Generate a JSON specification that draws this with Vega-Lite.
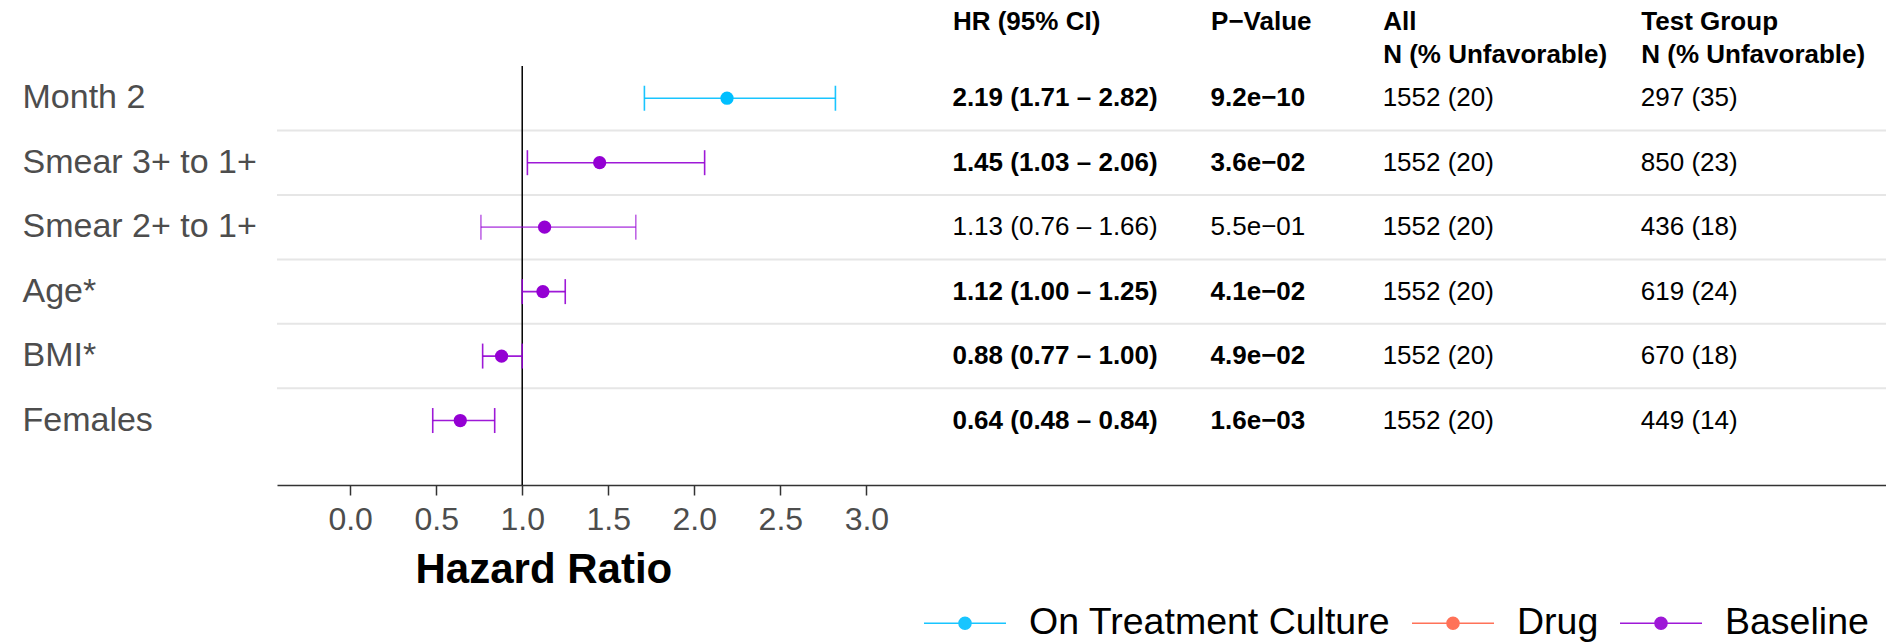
{
  "$schema": "https://vega.github.io/schema/vega-lite/v6.json",
  "width": 1609,
  "height": 419,
  "autosize": {"type": "none"},
  "padding": {"left": 277, "top": 66, "right": 0, "bottom": 159},
  "background": "white",
  "config": {
    "view": {"stroke": null},
    "font": "Liberation Sans",
    "axisLeft": {
      "labelFontSize": 34,
      "labelColor": "#4d4d4d",
      "labelAlign": "left",
      "labelPadding": 255,
      "labelLimit": 500,
      "ticks": false,
      "tickSize": 0,
      "domain": false,
      "grid": false
    },
    "legend": {
      "title": null,
      "orient": "none",
      "direction": "horizontal",
      "legendX": 646,
      "legendY": 515,
      "padding": 0,
      "symbolType": "M-1,0L1,0M-0.146,0A0.146,0.146,0,1,0,0.146,0A0.146,0.146,0,1,0,-0.146,0Z",
      "symbolSize": 6724,
      "symbolStrokeWidth": 1.6,
      "labelFontSize": 37.5,
      "labelColor": "black",
      "labelOffset": 22,
      "columnPadding": 17,
      "labelLimit": 500
    }
  },
  "data": {
    "values": [
      {"label": "Month 2", "group": "On Treatment Culture", "hr": 2.19, "lo": 1.71, "hi": 2.82, "ci": "2.19 (1.71 – 2.82)", "p": "9.2e−10", "all": "1552 (20)", "test": "297 (35)", "sig": true},
      {"label": "Smear 3+ to 1+", "group": "Baseline", "hr": 1.45, "lo": 1.03, "hi": 2.06, "ci": "1.45 (1.03 – 2.06)", "p": "3.6e−02", "all": "1552 (20)", "test": "850 (23)", "sig": true},
      {"label": "Smear 2+ to 1+", "group": "Baseline", "hr": 1.13, "lo": 0.76, "hi": 1.66, "ci": "1.13 (0.76 – 1.66)", "p": "5.5e−01", "all": "1552 (20)", "test": "436 (18)", "sig": false},
      {"label": "Age*", "group": "Baseline", "hr": 1.12, "lo": 1.00, "hi": 1.25, "ci": "1.12 (1.00 – 1.25)", "p": "4.1e−02", "all": "1552 (20)", "test": "619 (24)", "sig": true},
      {"label": "BMI*", "group": "Baseline", "hr": 0.88, "lo": 0.77, "hi": 1.00, "ci": "0.88 (0.77 – 1.00)", "p": "4.9e−02", "all": "1552 (20)", "test": "670 (18)", "sig": true},
      {"label": "Females", "group": "Baseline", "hr": 0.64, "lo": 0.48, "hi": 0.84, "ci": "0.64 (0.48 – 0.84)", "p": "1.6e−03", "all": "1552 (20)", "test": "449 (14)", "sig": true}
    ]
  },
  "resolve": {"axis": {"x": "independent"}},
  "layer": [
    {
      "transform": [{"filter": "datum.label != 'Month 2'"}],
      "mark": {"type": "rule", "color": "#e6e6e6", "strokeWidth": 2},
      "encoding": {
        "y": {"field": "label", "type": "nominal", "bandPosition": 0, "title": null,
              "sort": ["Month 2", "Smear 3+ to 1+", "Smear 2+ to 1+", "Age*", "BMI*", "Females"],
              "scale": {"type": "band", "paddingInner": 0, "paddingOuter": 0.25, "align": 0}}
      }
    },
    {
      "data": {"values": [{"hr": 1}]},
      "mark": {"type": "rule", "color": "black", "strokeWidth": 1.5},
      "encoding": {
        "x": {"field": "hr", "type": "quantitative",
              "scale": {"domain": [-0.425, 8.925], "nice": false, "zero": false},
              "axis": {
                "orient": "top", "values": [3.5, 5, 6, 7.5], "title": null,
                "labelExpr": "datum.value == 3.5 ? 'HR (95% CI)' : datum.value == 5 ? 'P−Value' : datum.value == 6 ? ['All', 'N (% Unfavorable)'] : ['Test Group', 'N (% Unfavorable)']",
                "domain": false, "ticks": false, "tickSize": 0, "grid": false,
                "labelAlign": "left", "labelBaseline": "top", "labelPadding": 58,
                "labelFontSize": 26, "labelFontWeight": "bold", "labelColor": "black",
                "labelLineHeight": 33, "labelOverlap": false, "labelFlush": false, "labelLimit": 500
              }}
      }
    },
    {
      "mark": {"type": "rule", "strokeWidth": 1.6},
      "encoding": {
        "x": {"field": "lo", "type": "quantitative", "scale": {"domain": [-0.425, 8.925], "nice": false, "zero": false}, "axis": null},
        "x2": {"field": "hi"},
        "y": {"field": "label", "type": "nominal", "title": null,
              "sort": ["Month 2", "Smear 3+ to 1+", "Smear 2+ to 1+", "Age*", "BMI*", "Females"],
              "scale": {"type": "band", "paddingInner": 0, "paddingOuter": 0.25, "align": 0}},
        "color": {"field": "group", "type": "nominal",
                  "scale": {"domain": ["On Treatment Culture", "Drug", "Baseline"], "range": ["#00BFFF", "#FF6347", "#9400D3"]},
                  "legend": {"encode": {"symbols": {"update": {
                    "fill": {"scale": "color", "field": "value"},
                    "stroke": {"scale": "color", "field": "value"},
                    "strokeOpacity": {"value": 0.75},
                    "fillOpacity": {"value": 1},
                    "opacity": {"value": 1}
                  }}}}},
        "opacity": {"condition": {"test": "datum.sig", "value": 0.9}, "value": 0.6}
      }
    },
    {
      "mark": {"type": "tick", "orient": "vertical", "size": 25, "thickness": 1.6},
      "encoding": {
        "x": {"field": "lo", "type": "quantitative", "scale": {"domain": [-0.425, 8.925], "nice": false, "zero": false}, "axis": null},
        "y": {"field": "label", "type": "nominal", "title": null,
              "sort": ["Month 2", "Smear 3+ to 1+", "Smear 2+ to 1+", "Age*", "BMI*", "Females"],
              "scale": {"type": "band", "paddingInner": 0, "paddingOuter": 0.25, "align": 0}},
        "color": {"field": "group", "type": "nominal",
                  "scale": {"domain": ["On Treatment Culture", "Drug", "Baseline"], "range": ["#00BFFF", "#FF6347", "#9400D3"]}},
        "opacity": {"condition": {"test": "datum.sig", "value": 0.9}, "value": 0.6}
      }
    },
    {
      "mark": {"type": "tick", "orient": "vertical", "size": 25, "thickness": 1.6},
      "encoding": {
        "x": {"field": "hi", "type": "quantitative", "scale": {"domain": [-0.425, 8.925], "nice": false, "zero": false}, "axis": null},
        "y": {"field": "label", "type": "nominal", "title": null,
              "sort": ["Month 2", "Smear 3+ to 1+", "Smear 2+ to 1+", "Age*", "BMI*", "Females"],
              "scale": {"type": "band", "paddingInner": 0, "paddingOuter": 0.25, "align": 0}},
        "color": {"field": "group", "type": "nominal",
                  "scale": {"domain": ["On Treatment Culture", "Drug", "Baseline"], "range": ["#00BFFF", "#FF6347", "#9400D3"]}},
        "opacity": {"condition": {"test": "datum.sig", "value": 0.9}, "value": 0.6}
      }
    },
    {
      "mark": {"type": "point", "filled": true, "shape": "circle", "size": 175, "opacity": 1},
      "encoding": {
        "x": {"field": "hr", "type": "quantitative",
              "scale": {"domain": [-0.425, 8.925], "nice": false, "zero": false},
              "axis": {
                "orient": "bottom", "values": [0, 0.5, 1, 1.5, 2, 2.5, 3], "format": ".1f",
                "title": "Hazard Ratio", "grid": false,
                "domainColor": "#333333", "domainWidth": 1.5,
                "tickColor": "#333333", "tickWidth": 1.5, "tickSize": 10,
                "labelFontSize": 32, "labelColor": "#4d4d4d", "labelPadding": 9,
                "labelOverlap": false, "labelFlush": false,
                "titleFontSize": 42, "titleFontWeight": "bold", "titleColor": "black",
                "titleX": 138, "titleY": 97, "titleAlign": "left", "titleBaseline": "alphabetic", "titleAnchor": "start"
              }},
        "y": {"field": "label", "type": "nominal", "title": null,
              "sort": ["Month 2", "Smear 3+ to 1+", "Smear 2+ to 1+", "Age*", "BMI*", "Females"],
              "scale": {"type": "band", "paddingInner": 0, "paddingOuter": 0.25, "align": 0}},
        "color": {"field": "group", "type": "nominal",
                  "scale": {"domain": ["On Treatment Culture", "Drug", "Baseline"], "range": ["#00BFFF", "#FF6347", "#9400D3"]}}
      }
    },
    {
      "transform": [{"filter": "datum.sig"}],
      "mark": {"type": "text", "align": "left", "baseline": "middle", "fontSize": 26, "fontWeight": "bold", "color": "black"},
      "encoding": {
        "x": {"datum": 3.5, "type": "quantitative", "scale": {"domain": [-0.425, 8.925], "nice": false, "zero": false}, "axis": null},
        "y": {"field": "label", "type": "nominal", "title": null,
              "sort": ["Month 2", "Smear 3+ to 1+", "Smear 2+ to 1+", "Age*", "BMI*", "Females"],
              "scale": {"type": "band", "paddingInner": 0, "paddingOuter": 0.25, "align": 0}},
        "text": {"field": "ci"}
      }
    },
    {
      "transform": [{"filter": "datum.sig"}],
      "mark": {"type": "text", "align": "left", "baseline": "middle", "fontSize": 26, "fontWeight": "bold", "color": "black"},
      "encoding": {
        "x": {"datum": 5, "type": "quantitative", "scale": {"domain": [-0.425, 8.925], "nice": false, "zero": false}, "axis": null},
        "y": {"field": "label", "type": "nominal", "title": null,
              "sort": ["Month 2", "Smear 3+ to 1+", "Smear 2+ to 1+", "Age*", "BMI*", "Females"],
              "scale": {"type": "band", "paddingInner": 0, "paddingOuter": 0.25, "align": 0}},
        "text": {"field": "p"}
      }
    },
    {
      "transform": [{"filter": "!datum.sig"}],
      "mark": {"type": "text", "align": "left", "baseline": "middle", "fontSize": 26, "color": "black"},
      "encoding": {
        "x": {"datum": 3.5, "type": "quantitative", "scale": {"domain": [-0.425, 8.925], "nice": false, "zero": false}, "axis": null},
        "y": {"field": "label", "type": "nominal", "title": null,
              "sort": ["Month 2", "Smear 3+ to 1+", "Smear 2+ to 1+", "Age*", "BMI*", "Females"],
              "scale": {"type": "band", "paddingInner": 0, "paddingOuter": 0.25, "align": 0}},
        "text": {"field": "ci"}
      }
    },
    {
      "transform": [{"filter": "!datum.sig"}],
      "mark": {"type": "text", "align": "left", "baseline": "middle", "fontSize": 26, "color": "black"},
      "encoding": {
        "x": {"datum": 5, "type": "quantitative", "scale": {"domain": [-0.425, 8.925], "nice": false, "zero": false}, "axis": null},
        "y": {"field": "label", "type": "nominal", "title": null,
              "sort": ["Month 2", "Smear 3+ to 1+", "Smear 2+ to 1+", "Age*", "BMI*", "Females"],
              "scale": {"type": "band", "paddingInner": 0, "paddingOuter": 0.25, "align": 0}},
        "text": {"field": "p"}
      }
    },
    {
      "mark": {"type": "text", "align": "left", "baseline": "middle", "fontSize": 26, "color": "black"},
      "encoding": {
        "x": {"datum": 6, "type": "quantitative", "scale": {"domain": [-0.425, 8.925], "nice": false, "zero": false}, "axis": null},
        "y": {"field": "label", "type": "nominal", "title": null,
              "sort": ["Month 2", "Smear 3+ to 1+", "Smear 2+ to 1+", "Age*", "BMI*", "Females"],
              "scale": {"type": "band", "paddingInner": 0, "paddingOuter": 0.25, "align": 0}},
        "text": {"field": "all"}
      }
    },
    {
      "mark": {"type": "text", "align": "left", "baseline": "middle", "fontSize": 26, "color": "black"},
      "encoding": {
        "x": {"datum": 7.5, "type": "quantitative", "scale": {"domain": [-0.425, 8.925], "nice": false, "zero": false}, "axis": null},
        "y": {"field": "label", "type": "nominal", "title": null,
              "sort": ["Month 2", "Smear 3+ to 1+", "Smear 2+ to 1+", "Age*", "BMI*", "Females"],
              "scale": {"type": "band", "paddingInner": 0, "paddingOuter": 0.25, "align": 0}},
        "text": {"field": "test"}
      }
    }
  ]
}
